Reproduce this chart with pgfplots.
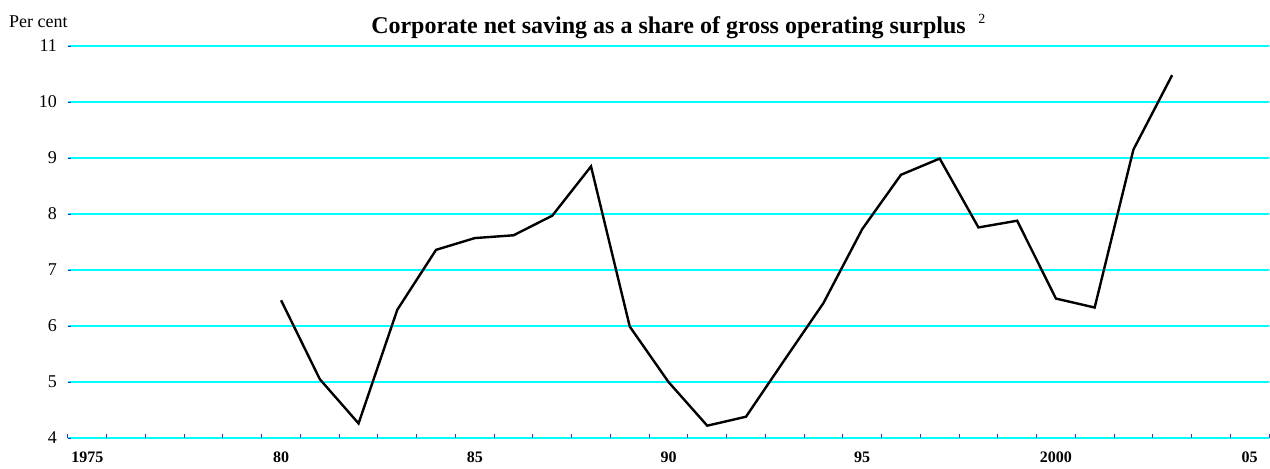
\documentclass[border=0pt]{standalone}
\usepackage{fontspec}
\setmainfont{Liberation Serif}
\usepackage{pgfplots}
\pgfplotsset{compat=1.18}
\definecolor{gridcyan}{RGB}{0,255,255}
\definecolor{tickblue}{RGB}{40,40,255}

\begin{document}
\begin{tikzpicture}
  % 1 px of the reference = 0.5pt
  \useasboundingbox (-34pt,-15pt) rectangle (601pt,219pt);
  \begin{axis}[
    name=ax,
    scale only axis,
    width=600.5pt, height=196pt,
    xmin=1974.5, xmax=2005.5,
    ymin=4, ymax=11,
    axis line style={draw=none},
    ymajorgrids,
    grid style={gridcyan, line width=0.6pt},
    ytick={4,5,...,11},
    xtick={1975,1980,1985,1990,1995,2000,2005},
    xticklabels={1975,80,85,90,95,2000,05},
    minor xtick={1974.5,1975.5,...,2005.5},
    xtick pos=lower, ytick pos=left,
    tick align=inside,
    major tick length=1.5pt,
    minor tick length=2pt,
    major x tick style={draw=none},
    minor x tick style={tickblue, line width=0.5pt},
    ytick style={tickblue, line width=0.5pt},
    /pgf/number format/assume math mode=true,
    yticklabel style={font=\fontsize{9}{10}\selectfont, xshift=-2pt},
    xticklabel style={font=\bfseries\fontsize{8}{9}\selectfont, yshift=-3.5pt},
  ]
    \addplot[black, line width=1.2pt] coordinates {
      (1980,6.46) (1981,5.05) (1982,4.26) (1983,6.29) (1984,7.36)
      (1985,7.57) (1986,7.62) (1987,7.97) (1988,8.85) (1989,5.99)
      (1990,5.00) (1991,4.22) (1992,4.38) (1993,5.40) (1994,6.41)
      (1995,7.73) (1996,8.70) (1997,8.99) (1998,7.76) (1999,7.88)
      (2000,6.49) (2001,6.33) (2002,9.15) (2003,10.48)
    };
  \end{axis}
  \node[anchor=base, inner sep=0pt, font=\bfseries\fontsize{12}{14}\selectfont]
    at ([yshift=6.5pt]ax.north) {Corporate net saving as a share of gross operating surplus};
  \node[anchor=base west, inner sep=0pt, font=\fontsize{7}{8}\selectfont]
    at ([xshift=455pt, yshift=11.5pt]ax.north west) {2};
  \node[anchor=base east, inner sep=0pt, font=\fontsize{9}{10}\selectfont]
    at ([yshift=9.5pt]ax.north west) {Per cent};
\end{tikzpicture}
\end{document}
